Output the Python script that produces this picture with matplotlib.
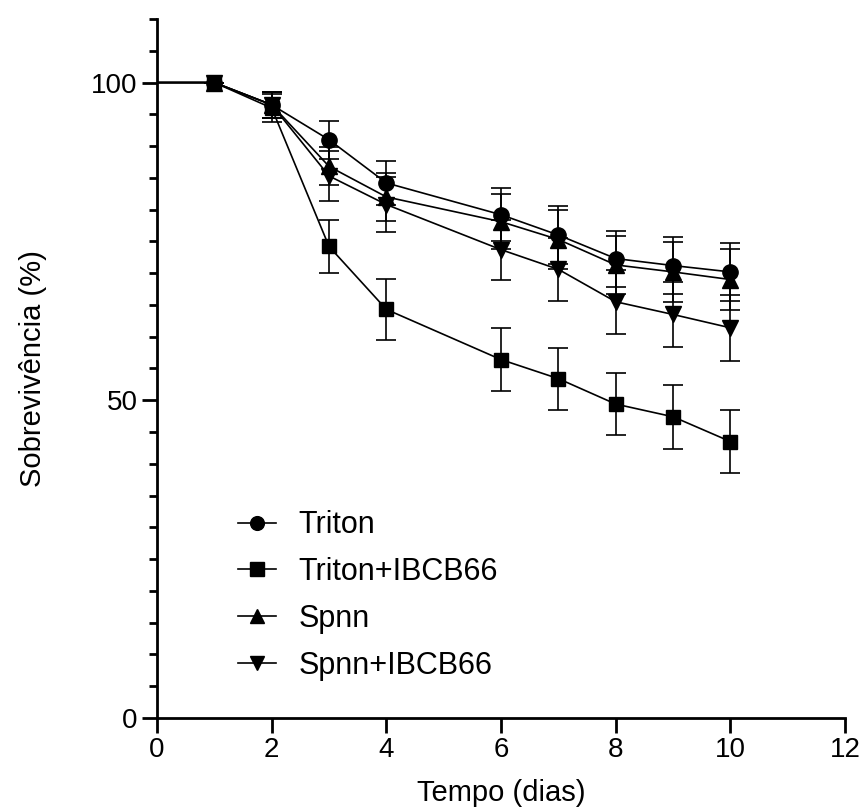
import matplotlib
matplotlib.use("Agg")
import matplotlib.pyplot as plt
from matplotlib.ticker import MultipleLocator

plt.rcParams['font.family'] = ['Liberation Sans', 'DejaVu Sans']

# Data; day 0 = 100 % for all groups
dias = [0, 1, 2, 3, 4, 6, 7, 8, 9, 10]

triton = [100, 100, 96.5, 91.0, 84.2, 79.2, 76.0, 72.3, 71.2, 70.2]
triton_err = [0, 0, 2.0, 3.0, 3.5, 4.2, 4.5, 4.4, 4.5, 4.6]

triton_ibcb = [100, 100, 96.0, 74.2, 64.3, 56.4, 53.4, 49.4, 47.4, 43.5]
triton_ibcb_err = [0, 0, 2.2, 4.2, 4.8, 4.9, 4.9, 4.9, 5.0, 5.0]

spnn = [100, 100, 96.5, 86.8, 82.0, 78.1, 75.3, 71.3, 70.2, 69.0]
spnn_err = [0, 0, 2.0, 3.0, 3.8, 4.3, 4.6, 4.6, 4.7, 4.8]

spnn_ibcb = [100, 100, 96.5, 85.3, 80.8, 73.7, 70.6, 65.5, 63.5, 61.4]
spnn_ibcb_err = [0, 0, 2.0, 4.0, 4.3, 4.7, 4.9, 5.0, 5.1, 5.2]

series = [
    ("Triton", triton, triton_err, "o", 11),
    ("Spnn", spnn, spnn_err, "^", 11),
    ("Spnn+IBCB66", spnn_ibcb, spnn_ibcb_err, "v", 11),
    ("Triton+IBCB66", triton_ibcb, triton_ibcb_err, "s", 10.5),
]

fig = plt.figure(figsize=(8.64, 8.09), dpi=100)
ax = fig.add_axes([0.1817, 0.1125, 0.7965, 0.864])

handles = {}
for name, y, err, mk, ms in series:
    ax.errorbar(dias[1:], y[1:], yerr=err[1:], fmt='none', ecolor='black',
                elinewidth=1.2, capsize=7, capthick=1.2, zorder=2)
    h, = ax.plot(dias, y, color='black', lw=1.2, marker=mk, markersize=ms,
                 markevery=list(range(1, len(dias))), zorder=3, label=name)
    handles[name] = h

order = ["Triton", "Triton+IBCB66", "Spnn", "Spnn+IBCB66"]
ax.legend([handles[n] for n in order], order, loc='lower left',
          bbox_to_anchor=(0.078, 0.014), frameon=False, fontsize=22,
          handlelength=1.25, handletextpad=0.72, labelspacing=0.55,
          markerscale=0.9)

ax.set_xlim(0, 12)
ax.set_ylim(0, 110)
ax.xaxis.set_major_locator(MultipleLocator(2))
ax.yaxis.set_major_locator(MultipleLocator(50))
ax.yaxis.set_minor_locator(MultipleLocator(5))

for s in ['top', 'right']:
    ax.spines[s].set_visible(False)
for s in ['left', 'bottom']:
    ax.spines[s].set_linewidth(2)

ax.tick_params(axis='both', which='major', length=11, width=2, labelsize=20, pad=3)
ax.tick_params(axis='y', which='minor', length=6, width=2)

ax.set_xlabel("Tempo (dias)", fontsize=21, labelpad=11)
ax.set_ylabel("Sobrevivência (%)", fontsize=21, labelpad=32)

fig.savefig("out.png", dpi=100)
